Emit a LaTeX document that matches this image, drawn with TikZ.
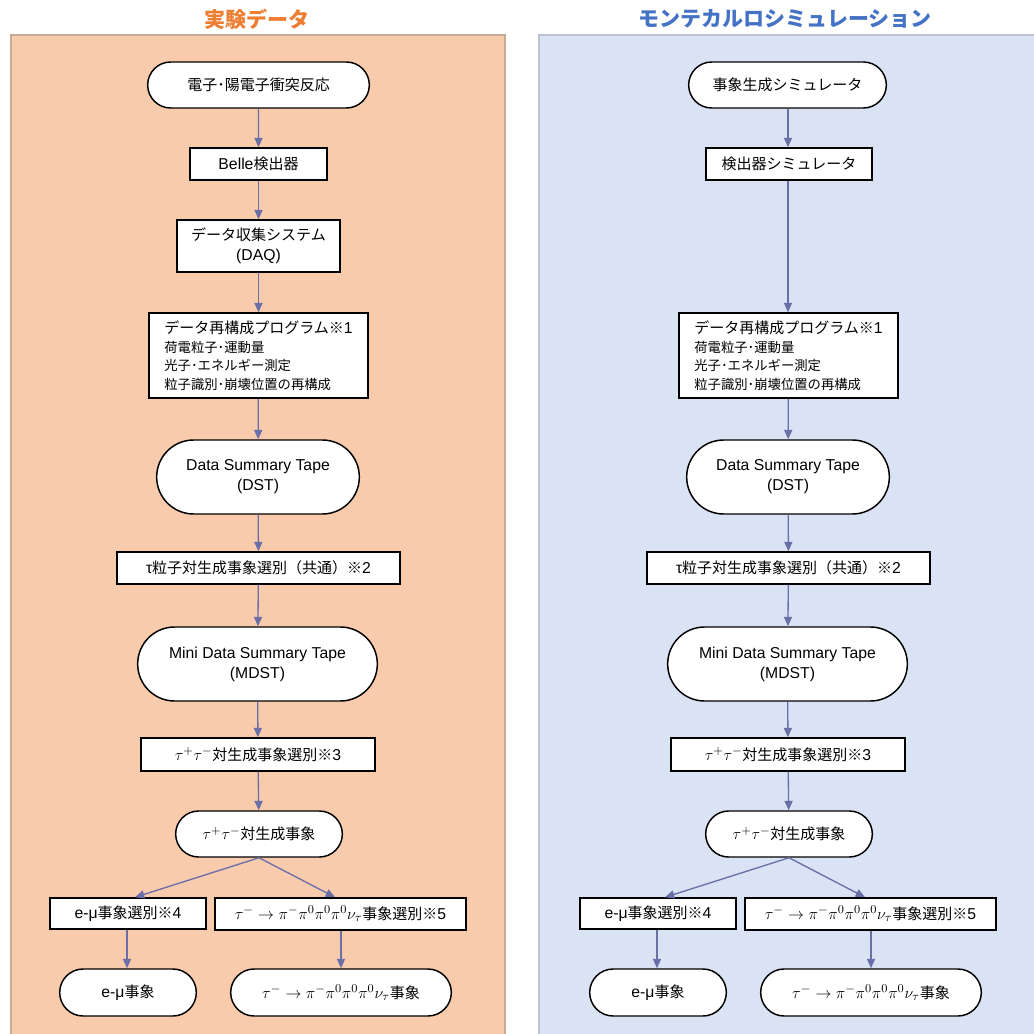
\documentclass[tikz,border=0pt]{standalone}
\usepackage{fontspec}
\setmainfont{Liberation Sans}[Scale=1.05]
\newfontfamily\jp{Noto Sans CJK JP}
\usetikzlibrary{arrows.meta,shapes.misc}
\definecolor{expfill}{HTML}{F8CBAD}
\definecolor{expline}{HTML}{C8AA98}
\definecolor{simfill}{HTML}{DAE3F3}
\definecolor{simline}{HTML}{BCC3CF}
\definecolor{exptitle}{HTML}{ED7D31}
\definecolor{simtitle}{HTML}{4472C4}
\definecolor{flow}{HTML}{6B6FA8}
\newcommand{\mth}[1]{{\fontsize{12.5}{15}\selectfont$#1$}}
\tikzset{
  base/.style={draw=black, fill=white, line width=1.1pt, inner sep=2pt,
    font=\fontsize{11.25}{15}\selectfont, align=center},
  boxnode/.style={base, rectangle},
  stad/.style={base, rounded rectangle},
  flowarrow/.style={draw=flow, line width=1pt, -{Triangle[length=7pt,width=6pt]}},
  paneltitle/.style={font=\fontsize{15.75}{18}\selectfont\jp\bfseries}
}
\begin{document}
\begin{tikzpicture}[x=0.75pt,y=-0.75pt]
\useasboundingbox (0,0) rectangle (1034,1034);
% panels
\path[fill=expfill, draw=expline, line width=0.9pt] (11,35) rectangle (505,1040);
\path[fill=simfill, draw=simline, line width=0.9pt] (539,35) rectangle (1040,1040);
\node[paneltitle, text=exptitle] (t1) at (257,19) {実験データ};
\node[paneltitle, text=simtitle] (t2) at (785,19) {モンテカルロシミュレーション};

% ---------- left column ----------
\node[stad, minimum width=170.25pt, minimum height=34.5pt] (a1) at (258.5,85) {\jp 電子･陽電子衝突反応};
\node[boxnode, minimum width=102.75pt, minimum height=24pt] (a2) at (258.5,164) {Belle{\jp 検出器}};
\node[boxnode, minimum width=122.25pt, minimum height=39pt] (a3) at (258.5,246) {{\jp データ収集システム}\\(DAQ)};
\node[boxnode, minimum width=164.25pt, minimum height=63.75pt, align=left, font=\fontsize{10}{13.9}\selectfont] (a4) at (258.5,355.5)
  {{\jp\fontsize{11.25}{13.9}\selectfont データ再構成プログラム※}{\fontsize{11.25}{13.9}\selectfont 1}\\{\jp 荷電粒子･運動量}\\{\jp 光子･エネルギー測定}\\{\jp 粒子識別･崩壊位置の再構成}};
\node[stad, minimum width=156pt, minimum height=55.5pt] (a5) at (258,477) {Data Summary Tape\\(DST)};
\node[boxnode, minimum width=212.25pt, minimum height=24pt] (a6) at (258.5,568) {τ{\jp 粒子対生成事象選別（共通）※}2};
\node[stad, minimum width=183.75pt, minimum height=55.5pt] (a7) at (257.5,664) {Mini Data Summary Tape\\(MDST)};
\node[boxnode, minimum width=175.5pt, minimum height=24.75pt] (a8) at (258,754.5) {\mth{\tau^{+}\tau^{-}}{\jp 対生成事象選別※}3};
\node[stad, minimum width=129pt, minimum height=34.5pt] (a9) at (259,834) {\mth{\tau^{+}\tau^{-}}{\jp 対生成事象}};
\node[boxnode, minimum width=117pt, minimum height=23.25pt] (a10) at (128,913.5) {e-μ{\jp 事象選別※}4};
\node[boxnode, minimum width=188.25pt, minimum height=24pt] (a11) at (340.5,914) {\mth{\tau^{-}\rightarrow\pi^{-}\pi^{0}\pi^{0}\pi^{0}\nu_{\tau}}{\jp 事象選別※}5};
\node[stad, minimum width=106.5pt, minimum height=35.25pt] (a12) at (128,992.5) {e-μ{\jp 事象}};
\node[stad, minimum width=169.5pt, minimum height=35.25pt] (a13) at (341,992.5) {\mth{\tau^{-}\rightarrow\pi^{-}\pi^{0}\pi^{0}\pi^{0}\nu_{\tau}}{\jp 事象}};

\draw[flowarrow] (a1) -- (a2);
\draw[flowarrow] (a2) -- (a3);
\draw[flowarrow] (a3) -- (a4);
\draw[flowarrow] (a4) -- (a5);
\draw[flowarrow] (a5) -- (a6);
\draw[flowarrow] (a6) -- (a7);
\draw[flowarrow] (a7) -- (a8);
\draw[flowarrow] (a8) -- (a9);
\draw[flowarrow] (a9.south) -- (a10.north -| 135,0);
\draw[flowarrow] (a9.south) -- (a11.north -| 335,0);
\draw[flowarrow] (a10.south -| 127,0) -- (a12.north -| 127,0);
\draw[flowarrow] (a11.south -| 341,0) -- (a13.north -| 341,0);

% ---------- right column ----------
\node[stad, minimum width=152.25pt, minimum height=34.5pt] (b1) at (787.5,85) {\jp 事象生成シミュレータ};
\node[boxnode, minimum width=124.5pt, minimum height=24pt] (b2) at (789,164) {\jp 検出器シミュレータ};
\node[boxnode, minimum width=164.25pt, minimum height=63.75pt, align=left, font=\fontsize{10}{13.9}\selectfont] (b4) at (788.5,355.5)
  {{\jp\fontsize{11.25}{13.9}\selectfont データ再構成プログラム※}{\fontsize{11.25}{13.9}\selectfont 1}\\{\jp 荷電粒子･運動量}\\{\jp 光子･エネルギー測定}\\{\jp 粒子識別･崩壊位置の再構成}};
\node[stad, minimum width=156pt, minimum height=55.5pt] (b5) at (788,477) {Data Summary Tape\\(DST)};
\node[boxnode, minimum width=212.25pt, minimum height=24pt] (b6) at (788.5,568) {τ{\jp 粒子対生成事象選別（共通）※}2};
\node[stad, minimum width=183.75pt, minimum height=55.5pt] (b7) at (787.5,664) {Mini Data Summary Tape\\(MDST)};
\node[boxnode, minimum width=175.5pt, minimum height=24.75pt] (b8) at (788,754.5) {\mth{\tau^{+}\tau^{-}}{\jp 対生成事象選別※}3};
\node[stad, minimum width=129pt, minimum height=34.5pt] (b9) at (789,834) {\mth{\tau^{+}\tau^{-}}{\jp 対生成事象}};
\node[boxnode, minimum width=117pt, minimum height=23.25pt] (b10) at (658,913.5) {e-μ{\jp 事象選別※}4};
\node[boxnode, minimum width=188.25pt, minimum height=24pt] (b11) at (870.5,914) {\mth{\tau^{-}\rightarrow\pi^{-}\pi^{0}\pi^{0}\pi^{0}\nu_{\tau}}{\jp 事象選別※}5};
\node[stad, minimum width=106.5pt, minimum height=35.25pt] (b12) at (658,992.5) {e-μ{\jp 事象}};
\node[stad, minimum width=169.5pt, minimum height=35.25pt] (b13) at (871,992.5) {\mth{\tau^{-}\rightarrow\pi^{-}\pi^{0}\pi^{0}\pi^{0}\nu_{\tau}}{\jp 事象}};

\draw[flowarrow] (b1.south -| 788,0) -- (b2.north -| 788,0);
\draw[flowarrow] (b2.south -| 788,0) -- (b4.north -| 788,0);
\draw[flowarrow] (b4) -- (b5);
\draw[flowarrow] (b5) -- (b6);
\draw[flowarrow] (b6) -- (b7);
\draw[flowarrow] (b7) -- (b8);
\draw[flowarrow] (b8) -- (b9);
\draw[flowarrow] (b9.south) -- (b10.north -| 665,0);
\draw[flowarrow] (b9.south) -- (b11.north -| 865,0);
\draw[flowarrow] (b10.south -| 657,0) -- (b12.north -| 657,0);
\draw[flowarrow] (b11.south -| 871,0) -- (b13.north -| 871,0);
\end{tikzpicture}
\end{document}
